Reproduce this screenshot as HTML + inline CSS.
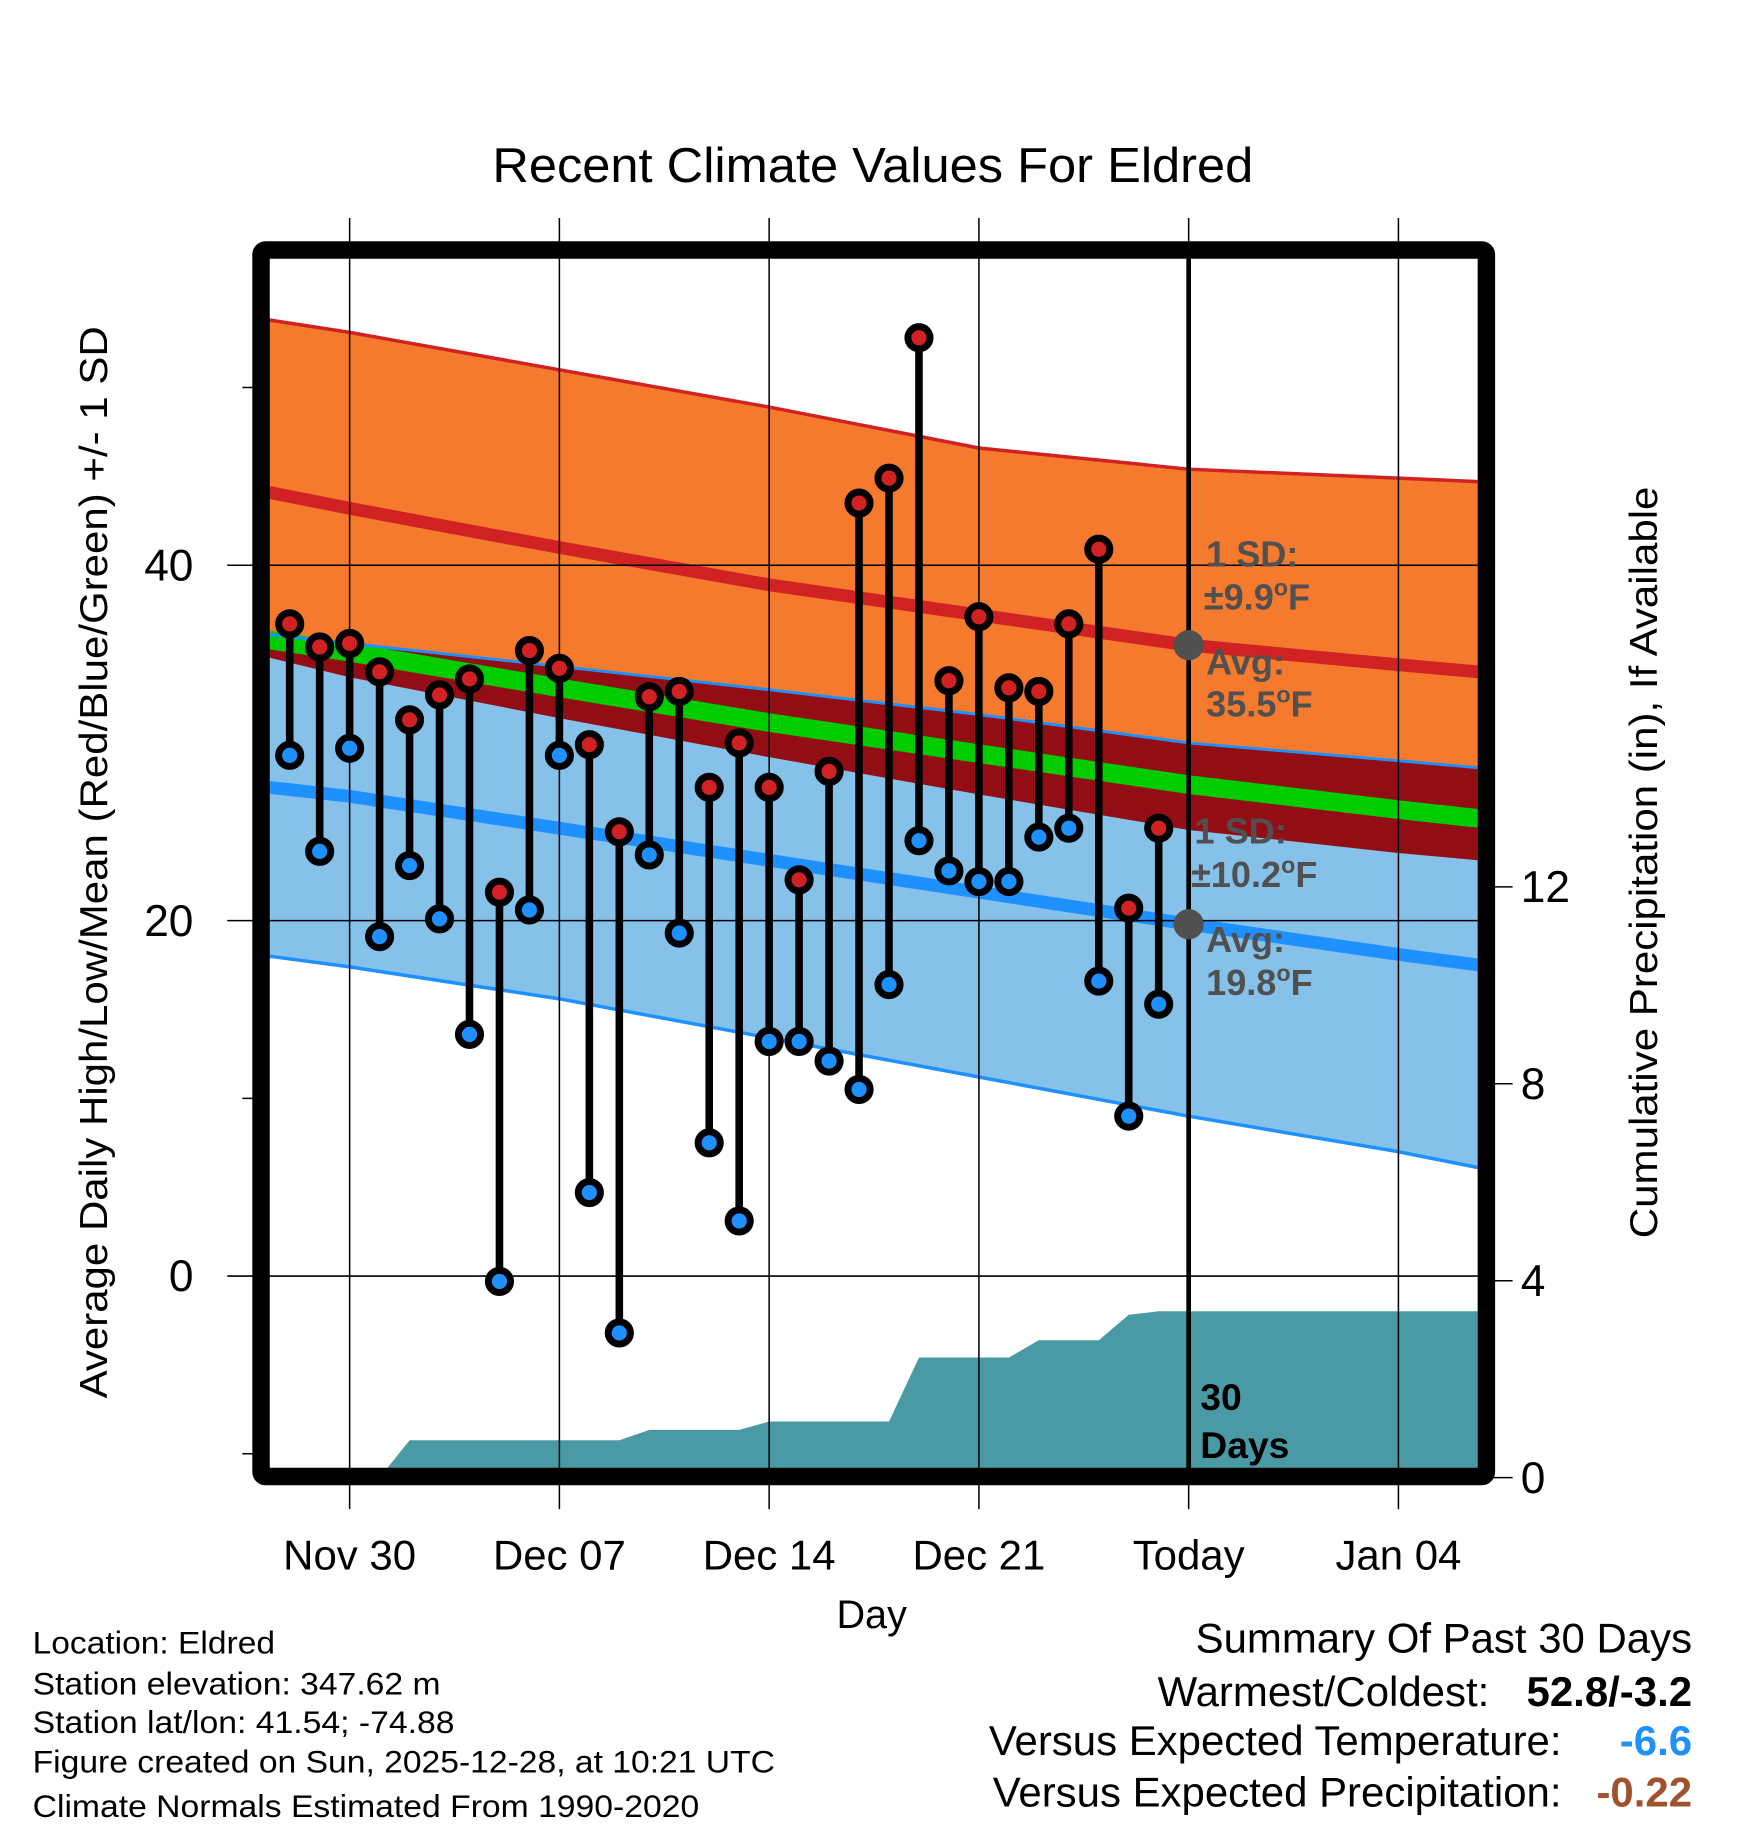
<!DOCTYPE html>
<html><head><meta charset="utf-8"><style>
html,body{margin:0;padding:0;background:#fff}
svg{display:block;font-family:"Liberation Sans",sans-serif}
</style></head><body>
<svg id="chart" width="1748" height="1828" viewBox="0 0 1500 1568.6" xmlns="http://www.w3.org/2000/svg">
<g id="plot"></g>
<text x="749" y="156" font-size="42" text-anchor="middle" textLength="653" lengthAdjust="spacingAndGlyphs">Recent Climate Values For Eldred</text>
<text transform="translate(92,740) rotate(-90)" font-size="33" text-anchor="middle" textLength="920" lengthAdjust="spacingAndGlyphs">Average Daily High/Low/Mean (Red/Blue/Green) +/- 1 SD</text>
<text transform="translate(1422,740) rotate(-90)" font-size="33" text-anchor="middle" textLength="645" lengthAdjust="spacingAndGlyphs">Cumulative Precipitation (in), If Available</text>
<text x="748" y="1397" font-size="34" text-anchor="middle">Day</text>
<g font-size="27">
<text x="28" y="1419" textLength="208" lengthAdjust="spacingAndGlyphs">Location: Eldred</text>
<text x="28" y="1454" textLength="350" lengthAdjust="spacingAndGlyphs">Station elevation: 347.62 m</text>
<text x="28" y="1487" textLength="362" lengthAdjust="spacingAndGlyphs">Station lat/lon: 41.54; -74.88</text>
<text x="28" y="1521" textLength="637" lengthAdjust="spacingAndGlyphs">Figure created on Sun, 2025-12-28, at 10:21 UTC</text>
<text x="28" y="1559" textLength="572" lengthAdjust="spacingAndGlyphs">Climate Normals Estimated From 1990-2020</text>
</g>
<g font-size="36" text-anchor="end">
<text x="1452" y="1418">Summary Of Past 30 Days</text>
<text x="1278" y="1464">Warmest/Coldest:</text>
<text x="1452" y="1464" font-weight="bold">52.8/-3.2</text>
<text x="1340" y="1506">Versus Expected Temperature:</text>
<text x="1452" y="1506" font-weight="bold" fill="#1E90FF">-6.6</text>
<text x="1340" y="1550">Versus Expected Precipitation:</text>
<text x="1452" y="1550" font-weight="bold" fill="#A0522D">-0.22</text>
</g>
</svg>
<script>
// daily observations (index 0 = Nov 28)
const highs = [36.7,35.4,35.6,34.0,31.3,32.7,33.6,21.6,35.2,34.2,29.9,25.0,32.6,32.9,27.5,30.0,27.5,22.3,28.4,43.5,44.9,52.8,33.5,37.1,33.1,32.9,36.7,40.9,20.7,25.2];
const lows = [29.3,23.9,29.7,19.1,23.1,20.1,13.6,-0.3,20.6,29.3,4.7,-3.2,23.7,19.3,7.5,3.1,13.2,13.2,12.1,10.5,16.4,24.5,22.8,22.2,22.2,24.7,25.2,16.6,9.0,15.3];
const precipCum = [0,0,0,0,0.76,0.76,0.76,0.76,0.76,0.76,0.76,0.76,0.97,0.97,0.97,0.97,1.14,1.14,1.14,1.14,1.14,2.44,2.44,2.44,2.44,2.79,2.79,2.79,3.31,3.38];
// normals sampled at day offsets
const normDays = [-0.68,2,9,16,23,30,37,39.68];
const highUpper = [53.8,53.1,51.0,48.9,46.6,45.4,44.9,44.7];
const highAvg = [44.1,43.2,41.0,38.9,37.2,35.5,34.4,34.0];
const highLower = [34.8,33.7,31.4,29.2,27.1,25.1,23.8,23.4];
const lowUpper = [36.1,35.6,34.3,33.0,31.6,30.0,29.0,28.6];
const lowAvg = [27.5,27.0,25.2,23.4,21.6,19.8,18.1,17.5];
const lowLower = [18.0,17.4,15.6,13.4,11.2,9.0,7.0,6.1];
const meanAvg = [35.8,35.1,33.1,31.15,29.4,27.65,26.25,25.75];
const xTickLabels = ["Nov 30","Dec 07","Dec 14","Dec 21","Today","Jan 04"];
const xTickDays = [2,9,16,23,30,37];
const yTicks = [0,20,40];
const yMinorTicks = [-10,10,50];
const y2Ticks = [0,4,8,12];
const todayDay = 30;

const NS="http://www.w3.org/2000/svg";
const L=231,R=1268,T=222,B=1260;
const X=d=>248.6+d*25.714;
const Y=t=>1095-t*15.25;
const YP=p=>1268-p*42.25;
const plot=document.getElementById('plot');
function mk(tag,attrs,parent){const e=document.createElementNS(NS,tag);for(const k in attrs)e.setAttribute(k,attrs[k]);(parent||plot).appendChild(e);return e;}
function pts(days,vals){return days.map((d,i)=>X(d).toFixed(1)+','+Y(vals[i]).toFixed(1));}
const defs=mk('defs',{});
const cp=mk('clipPath',{id:'clip'},defs);
mk('rect',{x:L,y:T,width:R-L,height:B-T},cp);
const g=mk('g',{'clip-path':'url(#clip)'});


function mk2(tag,attrs){return mk(tag,attrs,g);}
(function(){
  const add=(up,lo,fill,name)=>{const p=pts(normDays,up).concat(pts(normDays,lo).reverse());const e=mk2('polygon',{points:p.join(' '),fill:fill});};
  const ln=(vals,color,w,name)=>{const e=mk2('polyline',{points:pts(normDays,vals).join(' '),fill:'none',stroke:color,'stroke-width':w});};
  add(highUpper,highLower,'#F57A2D','high-sd-band');
  add(lowUpper,lowLower,'#85C1E8','low-sd-band');
  add(lowUpper,highLower,'#930D15','overlap-band');
  ln(meanAvg,'#00CC00',16,'mean-normal-line');
  ln(lowUpper,'#1E90FF',2.5,'low-upper-sd-line');
  ln(lowLower,'#1E90FF',3,'low-lower-sd-line');
  ln(highUpper,'#D02222',3,'high-upper-sd-line');
  ln(highAvg,'#D02222',11,'high-normal-line');
  ln(lowAvg,'#1E90FF',11,'low-normal-line');
  const pp=[X(-1).toFixed(1)+','+YP(0)];
  precipCum.forEach((v,i)=>pp.push(X(i).toFixed(1)+','+YP(v).toFixed(1)));
  pp.push(X(41)+','+YP(precipCum[precipCum.length-1]).toFixed(1));
  pp.push(X(41)+','+(B+20));pp.push(X(-1)+','+(B+20));
  const pa=mk2('polygon',{points:pp.join(' '),fill:'#4A9AA5'});
  
  
})();
xTickDays.forEach((d,i)=>{
  const gl=mk('line',{x1:X(d),x2:X(d),y1:187,y2:1295,stroke:'#000','stroke-width':1.3});
  
  
  const t=mk('text',{x:X(d),y:1347,'font-size':36,'text-anchor':'middle'});
  t.textContent=xTickLabels[i];
  
  
});
yTicks.forEach(v=>{
  const gl=mk('line',{x1:195,x2:R,y1:Y(v),y2:Y(v),stroke:'#000','stroke-width':1.3});
  
  
  const t=mk('text',{x:166,y:Y(v)+13,'font-size':38,'text-anchor':'end'});
  t.textContent=v;
  
  
});
yMinorTicks.forEach(v=>{
  const tk=mk('line',{x1:208,x2:224,y1:Y(v),y2:Y(v),stroke:'#000','stroke-width':1.3});
  
  
});
y2Ticks.forEach(v=>{
  const tk=mk('line',{x1:1275,x2:1298,y1:YP(v),y2:YP(v),stroke:'#000','stroke-width':1.3});
  
  
  const t=mk('text',{x:1305,y:YP(v)+13,'font-size':38});
  t.textContent=v;
  
  
});
plot.insertBefore(g,plot.firstChild);
plot.insertBefore(defs,plot.firstChild);
const tl=mk('line',{x1:X(todayDay),x2:X(todayDay),y1:T,y2:B,stroke:'#000','stroke-width':4});


const ia=normDays.indexOf(30);
const hd=mk('circle',{cx:X(todayDay),cy:Y(highAvg[ia]),r:13,fill:'#505050'});


const ld=mk('circle',{cx:X(todayDay),cy:Y(lowAvg[ia]),r:13,fill:'#505050'});


const ann=[["1 SD:","",1035,486],["±9.9","F",1033,523],["Avg:","",1035,579],["35.5","F",1035,615],["1 SD:","",1025,724],["±10.2","F",1022,761],["Avg:","",1035,817],["19.8","F",1035,854]];
ann.forEach(a=>{
  const t=mk('text',{x:a[2],y:a[3],'font-size':31,'font-weight':'bold',fill:'#505050'});
  t.appendChild(document.createTextNode(a[0]));
  if(a[1]){
    const s=mk('tspan',{dy:-12,'font-size':20},t);s.textContent='o';
    const f=mk('tspan',{dy:12},t);f.textContent=a[1];
  }
  
  
});
[["30",1210],["Days",1251]].forEach(a=>{
  const t=mk('text',{x:1030,y:a[1],'font-size':32,'font-weight':'bold'});
  t.textContent=a[0];
  
  
});
highs.forEach((h,i)=>{
  const s=mk('line',{x1:X(i),x2:X(i),y1:Y(h),y2:Y(lows[i]),stroke:'#000','stroke-width':6.5});
  
  
});
highs.forEach((h,i)=>{
  const c1=mk('circle',{cx:X(i),cy:Y(h),r:9.5,fill:'#D02222',stroke:'#000','stroke-width':6});
  
  
  const c2=mk('circle',{cx:X(i),cy:Y(lows[i]),r:9.5,fill:'#1E90FF',stroke:'#000','stroke-width':6});
  
  
});
const fr=mk('rect',{x:224,y:214.5,width:1051.5,height:1052.5,fill:'none',stroke:'#000','stroke-width':15,rx:4});


</script>
</body></html>
